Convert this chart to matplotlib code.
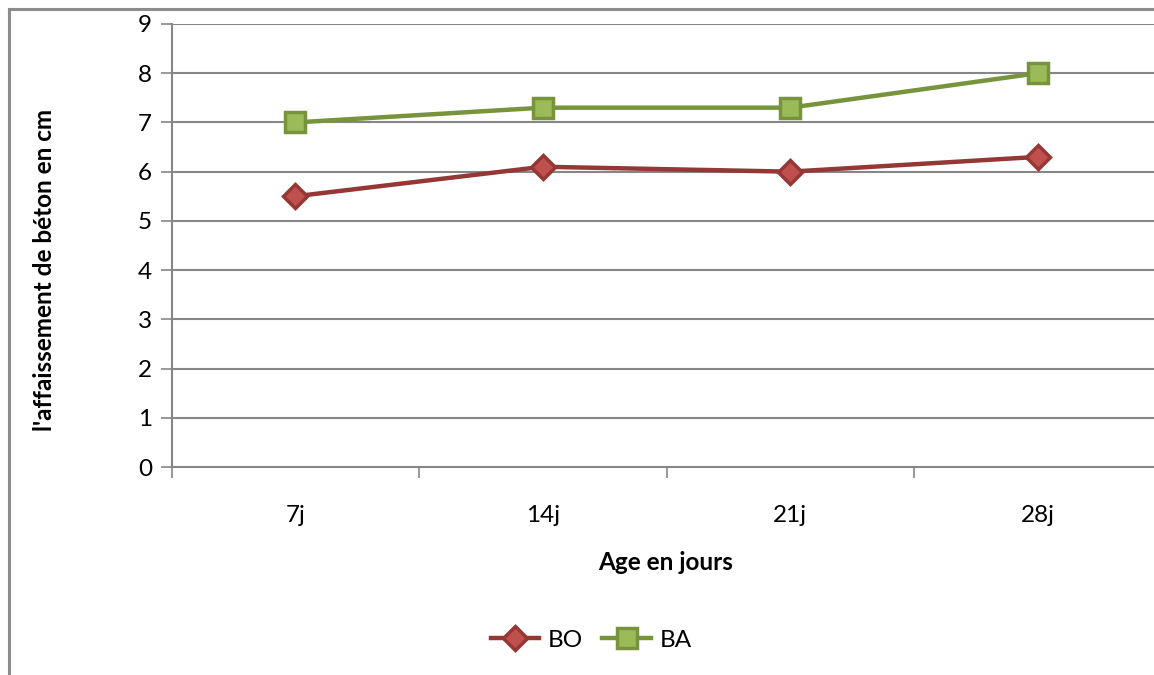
import matplotlib.pyplot as plt
from matplotlib.lines import Line2D

categories = ["7j", "14j", "21j", "28j"]
bo_values = [5.5, 6.1, 6.0, 6.3]
ba_values = [7.0, 7.3, 7.3, 8.0]
y_ticks = list(range(0, 10))

plt.rcParams['font.family'] = ['Lato', 'DejaVu Sans']

W, H = 1154, 675
fig = plt.figure(figsize=(W / 100, H / 100), dpi=100)

# plot area in pixel coordinates
left_px, right_px = 171.5, 1161.5
top_px, bottom_px = 24, 467
ax = fig.add_axes([left_px / W, 1 - bottom_px / H,
                   (right_px - left_px) / W, (bottom_px - top_px) / H])

grid_col = "#868686"
fs = 17.5
x = list(range(len(categories)))

ax.set_xlim(-0.5, len(categories) - 0.5)
ax.set_ylim(0, 9)
ax.set_yticks(y_ticks)
ax.set_yticklabels([str(v) for v in y_ticks], fontsize=fs)
for v in y_ticks[1:]:
    ax.axhline(v, color=grid_col, lw=1.5, zorder=1)

ax.set_xticks(x)
ax.set_xticklabels(categories, fontsize=fs)
ax.tick_params(axis='x', length=0, pad=27)
ax.set_xticks([i - 0.5 for i in range(len(categories) + 1)], minor=True)
ax.tick_params(axis='x', which='minor', length=8, width=1.2, color=grid_col, direction='out')
ax.tick_params(axis='y', length=8, width=1.2, color=grid_col, direction='out', pad=6)

for s in ['top', 'right']:
    ax.spines[s].set_visible(False)
for s in ['left', 'bottom']:
    ax.spines[s].set_color(grid_col)
    ax.spines[s].set_linewidth(1.5)
ax.spines['bottom'].set_zorder(3)

bo_style = dict(color="#953735", lw=3.2, marker="D", markersize=12,
                markerfacecolor="#C0504D", markeredgecolor="#953735", markeredgewidth=2.5)
ba_style = dict(color="#77933C", lw=3.2, marker="s", markersize=15,
                markerfacecolor="#9BBB59", markeredgecolor="#77933C", markeredgewidth=2.5)

ax.plot(x, bo_values, zorder=4, **bo_style)
ax.plot(x, ba_values, zorder=4, **ba_style)

fig.text(666 / W, 1 - 562 / H, "Age en jours", fontsize=fs, fontweight='bold',
         ha='center', va='center')
fig.text(45 / W, 1 - 270 / H, "l'affaissement de béton en cm", fontsize=fs,
         fontweight='bold', ha='center', va='center', rotation=90)

handles = [Line2D([], [], **bo_style), Line2D([], [], **ba_style)]
fig.legend(handles, ["BO", "BA"], loc='center', bbox_to_anchor=(591 / W, 1 - 640 / H),
           ncol=2, frameon=False, fontsize=fs, handlelength=2.0, handletextpad=0.35,
           columnspacing=0.8)

# outer chart frame
fig.add_artist(Line2D([9 / W, 9 / W], [0, 1 - 9 / H], color="#8C8C8C", lw=2.2,
                      transform=fig.transFigure))
fig.add_artist(Line2D([9 / W, 1], [1 - 9 / H, 1 - 9 / H], color="#8C8C8C", lw=2.2,
                      transform=fig.transFigure))

fig.savefig("out.png", dpi=100)
